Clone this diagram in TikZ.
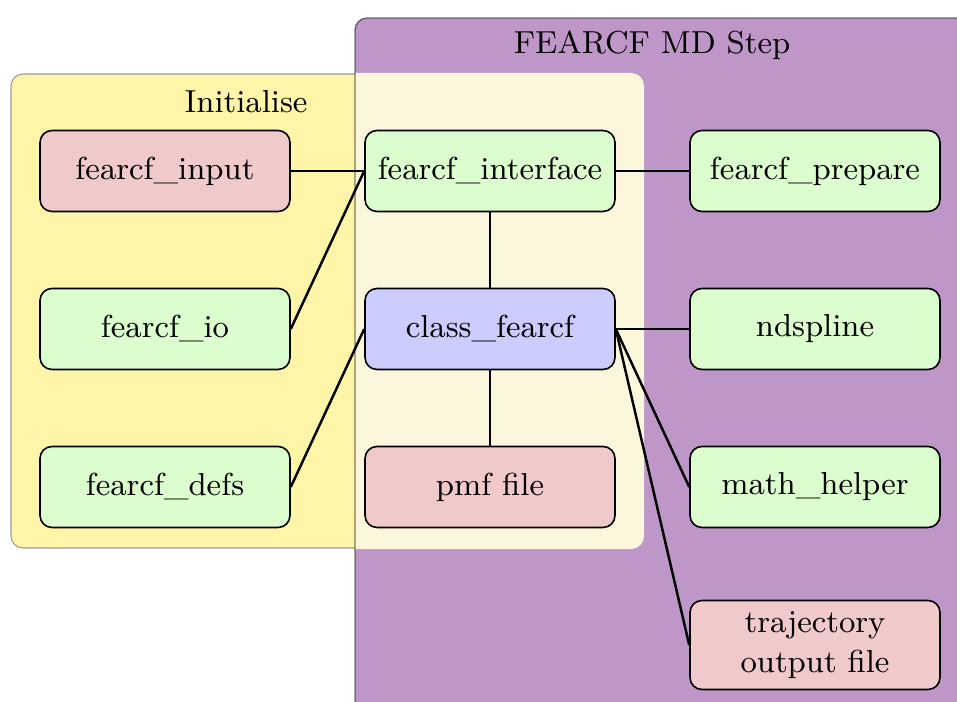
\documentclass[tikz,border=0pt]{standalone}
\definecolor{modpink}{HTML}{F0CACA}
\definecolor{modgreen}{HTML}{DCFDCD}
\definecolor{modblue}{HTML}{CCCCFF}
\definecolor{steppurple}{HTML}{BE96C8}
\definecolor{inityellow}{HTML}{FFF5A8}
\definecolor{initcream}{HTML}{FCF6DC}
\tikzset{
  modbox/.style={draw=black, line width=0.45pt, rounded corners=1.2mm,
    minimum width=25mm, minimum height=8.1mm, align=center, inner sep=2pt,
    font=\fontsize{9.05}{11.2}\selectfont},
  link/.style={line width=0.7pt, black},
  grouptitle/.style={font=\fontsize{9.05}{11.2}\selectfont}
}
\begin{document}
\begin{tikzpicture}[x=0.1mm, y=-0.1mm]
  \useasboundingbox (0,0) rectangle (957,702);
  \clip (0,0) rectangle (957,702);
  % group backgrounds
  \fill[steppurple, rounded corners=1.2mm] (355,18) rectangle (1000,760);
  \filldraw[fill=inityellow, draw=black!40, line width=0.3pt, rounded corners=1.2mm] (11,74) rectangle (643,548);
  \begin{scope}
    \clip[rounded corners=1.2mm] (355,18) rectangle (1000,760);
    \filldraw[fill=initcream, draw=initcream, line width=0.6pt, rounded corners=1.2mm] (11,74) rectangle (643,548);
  \end{scope}
  \draw[black, opacity=0.5, line width=0.4pt, rounded corners=1.2mm] (355,18) rectangle (1000,760);
  \node[grouptitle] (steptitle) at (652,45) {FEARCF MD Step};
  \node[grouptitle] (inittitle) at (246,102) {Initialise};

  % modules
  \node[modbox, fill=modpink]  (input)     at (165,171) {fearcf\_input};
  \node[modbox, fill=modgreen] (io)        at (165,329) {fearcf\_io};
  \node[modbox, fill=modgreen] (defs)      at (165,487) {fearcf\_defs};
  \node[modbox, fill=modgreen] (interface) at (490,171) {fearcf\_interface};
  \node[modbox, fill=modblue]  (class)     at (490,329) {class\_fearcf};
  \node[modbox, fill=modpink]  (pmf)       at (490,487) {pmf file};
  \node[modbox, fill=modgreen] (prepare)   at (815,171) {fearcf\_prepare};
  \node[modbox, fill=modgreen] (ndspline)  at (815,329) {ndspline};
  \node[modbox, fill=modgreen] (math)      at (815,487) {math\_helper};
  \node[modbox, fill=modpink, minimum height=8.9mm] (traj) at (815,645) {trajectory\\output file};

  % dependencies
  \draw[link] (input.east) -- (interface.west);
  \draw[link] (io.east) -- (interface.west);
  \draw[link] (defs.east) -- (class.west);
  \draw[link] (interface.east) -- (prepare.west);
  \draw[link] (interface.south) -- (class.north);
  \draw[link] (class.south) -- (pmf.north);
  \draw[link] (class.east) -- (ndspline.west);
  \draw[link] (class.east) -- (math.west);
  \draw[link] (class.east) -- (traj.west);
\end{tikzpicture}
\end{document}
